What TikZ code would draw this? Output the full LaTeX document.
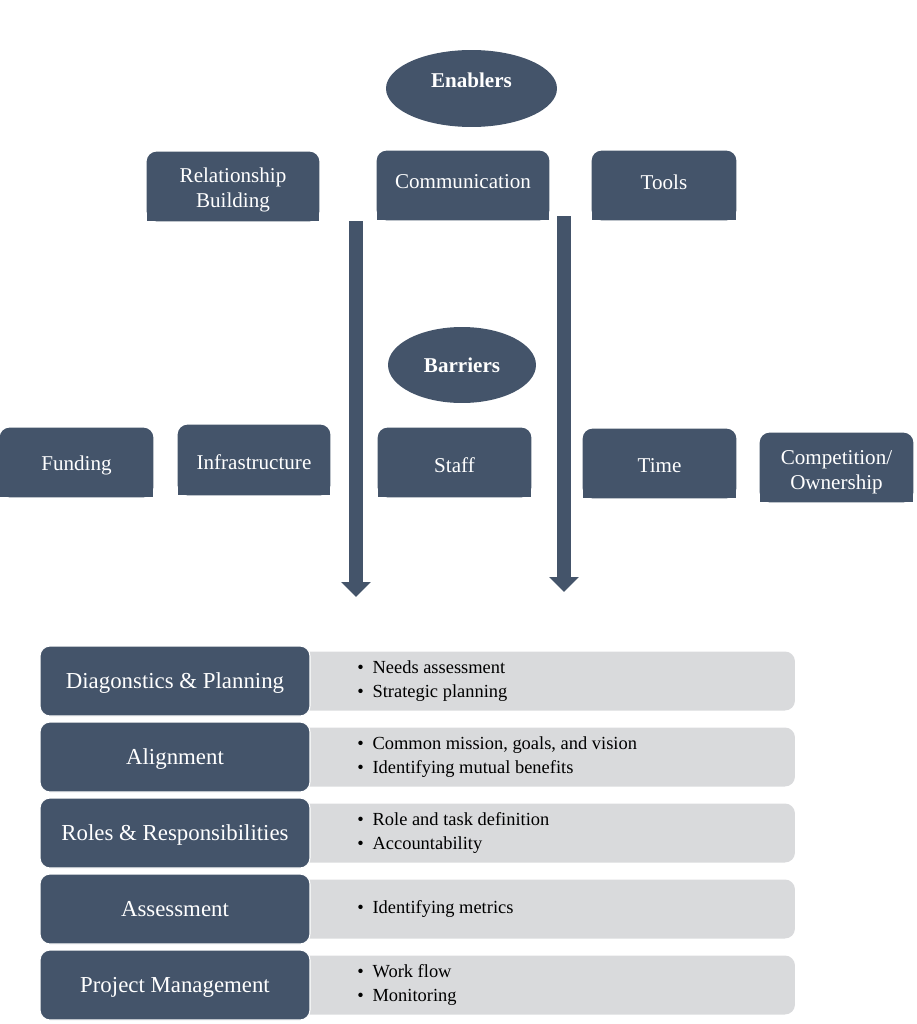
\documentclass[tikz,border=0pt]{standalone}
\usepackage{fontspec}
\setmainfont{Liberation Serif}
\usetikzlibrary{shapes.geometric,arrows.meta,backgrounds}
\definecolor{slate}{RGB}{68,84,106}
\definecolor{lightgrey}{RGB}{217,218,220}
\newcommand{\bul}{\textbullet\hspace{5pt}}
\begin{document}
\begin{tikzpicture}[x=0.02cm,y=-0.02cm,
  oval/.style={ellipse,fill=slate,inner sep=0},
  ovaltext/.style={text=white,font=\bfseries\fontsize{12}{14}\selectfont,inner sep=0},
  tab/.style={inner sep=0,minimum height=1.38cm},
  tabtext/.style={text=white,align=center,font=\fontsize{12}{14.5}\selectfont,inner sep=0},
  bigarrow/.style={draw=slate,line width=0.28cm,-{Triangle[width=0.58cm,length=0.3cm]}},
  rowhead/.style={fill=slate,draw=white,line width=0.6pt,rounded corners=0.2cm,text=white,
    minimum width=5.4cm,minimum height=1.4cm,inner sep=0,text depth=0pt,font=\fontsize{13}{15}\selectfont},
  rowbody/.style={fill=lightgrey,rounded corners=0.2cm,minimum width=10cm,minimum height=1.18cm,inner sep=0},
  bullets/.style={anchor=west,align=left,inner sep=0,font=\fontsize{10.5}{13.6}\selectfont}]
\useasboundingbox (0,0) rectangle (916,1024);

% Enablers
\node[oval,minimum width=3.42cm,minimum height=1.54cm] (ena) at (471.5,88.5) {};
\node[ovaltext] (enat) at (471.5,80) {Enablers};
\node[tab,minimum width=3.44cm] (rb) at (233,186.5) {};
\node[tab,minimum width=3.44cm] (com) at (463,185.5) {};
\node[tab,minimum width=2.88cm] (tools) at (664,185.5) {};
\node[tabtext] (rbt) at (233,190) {Relationship\\Building};
\node[tabtext] (comt) at (463,182) {Communication};
\node[tabtext] (toolst) at (664,182) {Tools};

% Barriers
\node[oval,minimum width=2.96cm,minimum height=1.52cm] (bar) at (462,365) {};
\node[ovaltext] (bart) at (462,365) {Barriers};
\node[tab,minimum width=3.06cm] (fund) at (76.5,462.5) {};
\node[tab,minimum width=3.04cm,minimum height=1.4cm] (infra) at (254,460) {};
\node[tab,minimum width=3.06cm] (staff) at (454.5,462.5) {};
\node[tab,minimum width=3.06cm] (time) at (659.5,463.5) {};
\node[tab,minimum width=3.06cm] (comp) at (836.5,467.5) {};
\node[tabtext] (fundt) at (76.5,465) {Funding};
\node[tabtext] (infrat) at (254,462) {Infrastructure};
\node[tabtext] (stafft) at (454.5,465) {Staff};
\node[tabtext] (timet) at (659.5,466) {Time};
\node[tabtext] (compt) at (836.5,472) {Competition/\\Ownership};

\begin{scope}[on background layer]
\foreach \n in {rb,com,tools,fund,infra,staff,time,comp}{
  \fill[slate,rounded corners=0.2cm] (\n.south west) rectangle (\n.north east);
  \fill[slate] (\n.south west) rectangle (\n.east);
}
\end{scope}

% Arrows
\coordinate (la0) at (356,221);
\coordinate (la1) at (356,597);
\coordinate (ra0) at (564,216);
\coordinate (ra1) at (564,592);
\draw[bigarrow] (la0) -- (la1);
\draw[bigarrow] (ra0) -- (ra1);

% Rows
\node[rowbody] (g1) at (545,681) {};
\node[rowbody] (g2) at (545,757) {};
\node[rowbody] (g3) at (545,833) {};
\node[rowbody] (g4) at (545,909) {};
\node[rowbody] (g5) at (545,985) {};

\node[rowhead] (d1) at (175,681) {Diagonstics \& Planning};
\node[rowhead] (d2) at (175,757) {Alignment};
\node[rowhead] (d3) at (175,833) {Roles \& Responsibilities};
\node[rowhead] (d4) at (175,909) {Assessment};
\node[rowhead] (d5) at (175,985) {Project Management};

\node[bullets] (t1) at (357,681) {\bul Needs assessment\\\bul Strategic planning};
\node[bullets] (t2) at (357,757) {\bul Common mission, goals, and vision\\\bul Identifying mutual benefits};
\node[bullets] (t3) at (357,833) {\bul Role and task definition\\\bul Accountability};
\node[bullets] (t4) at (357,909) {\bul Identifying metrics};
\node[bullets] (t5) at (357,985) {\bul Work flow\\\bul Monitoring};
\end{tikzpicture}
\end{document}
